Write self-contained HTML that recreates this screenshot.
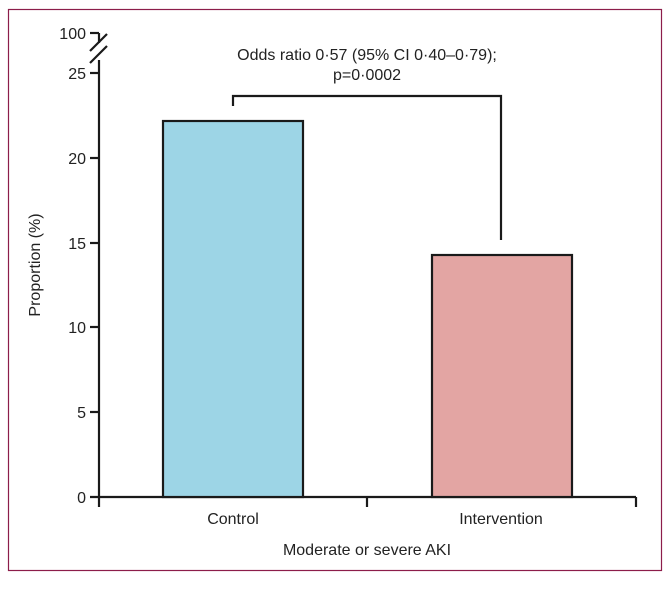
<!DOCTYPE html>
<html><head><style>
body{margin:0;background:#fff;}
svg text{font-family:"Liberation Sans",sans-serif;fill:#222;}
</style></head><body>
<svg width="670" height="587" viewBox="0 0 670 587">
<rect x="8.5" y="9.5" width="653" height="561" fill="none" stroke="#8c1d4a" stroke-width="1.2"/>
<g stroke="#1a1a1a" stroke-width="2.2" fill="none">
<path d="M99 33 H99 V43"/>
<path d="M90 33 H99"/>
<path d="M99 60 V497"/>
<line x1="90" y1="51" x2="107" y2="34"/>
<line x1="90" y1="63" x2="107" y2="46"/>
<line x1="90" y1="73" x2="99" y2="73"/>
<line x1="90" y1="158" x2="99" y2="158"/>
<line x1="90" y1="243" x2="99" y2="243"/>
<line x1="90" y1="327" x2="99" y2="327"/>
<line x1="90" y1="412" x2="99" y2="412"/>
<line x1="90" y1="497" x2="636" y2="497"/>
<line x1="99" y1="497" x2="99" y2="507"/>
<line x1="367" y1="497" x2="367" y2="507"/>
<line x1="636" y1="497" x2="636" y2="507"/>
<path d="M233 106 V96 H501 V240"/>
</g>
<rect x="163" y="121" width="140" height="376" fill="#9dd5e6" stroke="#1a1a1a" stroke-width="2.2"/>
<rect x="432" y="255" width="140" height="242" fill="#e3a5a3" stroke="#1a1a1a" stroke-width="2.2"/>
<g font-size="16" text-anchor="end">
<text x="86" y="39">100</text>
<text x="86" y="79">25</text>
<text x="86" y="164">20</text>
<text x="86" y="249">15</text>
<text x="86" y="333">10</text>
<text x="86" y="418">5</text>
<text x="86" y="503">0</text>
</g>
<g font-size="16" text-anchor="middle">
<text x="233" y="524">Control</text>
<text x="501" y="524">Intervention</text>
<text x="367" y="555">Moderate or severe AKI</text>
<text x="367" y="60">Odds ratio 0·57 (95% CI 0·40–0·79);</text>
<text x="367" y="80">p=0·0002</text>
<text transform="translate(40 265) rotate(-90)">Proportion (%)</text>
</g>
</svg>
</body></html>
